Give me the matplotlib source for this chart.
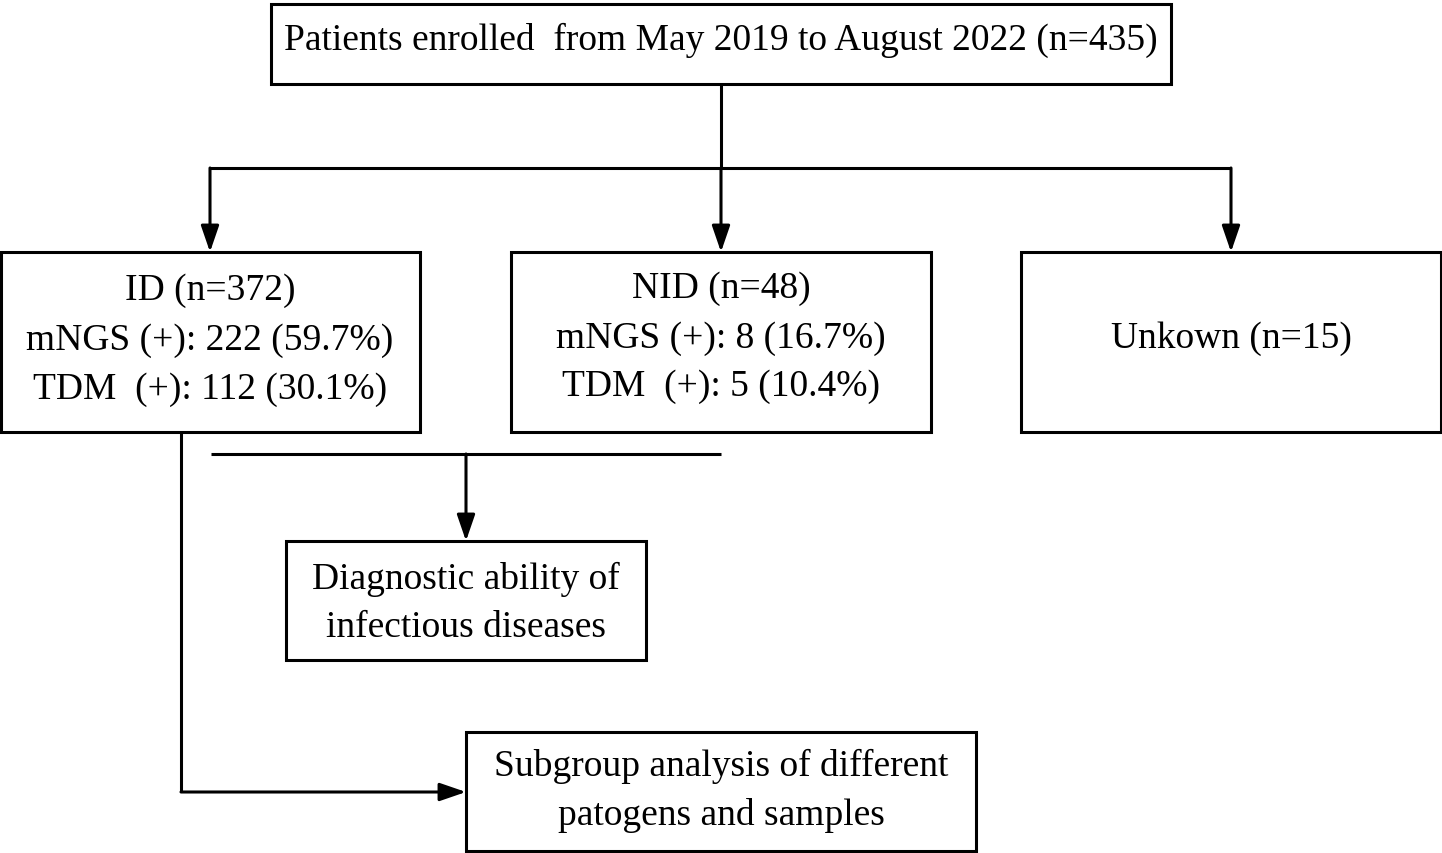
import matplotlib
matplotlib.use('Agg')
import matplotlib.pyplot as plt
from matplotlib.patches import Rectangle

# box texts
top_text = "Patients enrolled  from May 2019 to August 2022 (n=435)"
id_lines = ["ID (n=372)", "mNGS (+): 222 (59.7%)", "TDM  (+): 112 (30.1%)"]
nid_lines = ["NID (n=48)", "mNGS (+): 8 (16.7%)", "TDM  (+): 5 (10.4%)"]
unk_text = "Unkown (n=15)"
diag_lines = ["Diagnostic ability of", "infectious diseases"]
sub_lines = ["Subgroup analysis of different", "patogens and samples"]

W, H = 1442, 854
fig = plt.figure(figsize=(W / 100, H / 100), dpi=100)
ax = fig.add_axes([0, 0, 1, 1])
ax.set_xlim(0, W)
ax.set_ylim(H, 0)
ax.axis('off')

plt.rcParams['font.family'] = ['Liberation Serif', 'DejaVu Serif']
fs = 27
lw = 2.2

def box(x0, y0, x1, y1):
    ax.add_patch(Rectangle((x0, y0), x1 - x0, y1 - y0, fill=False,
                           edgecolor='black', linewidth=lw))

def lines_text(cx, ys, txts):
    for y, t in zip(ys, txts):
        ax.text(cx, y, t, ha='center', va='center', fontsize=fs)

def line(xs, ys):
    ax.plot(xs, ys, color='black', linewidth=lw, solid_capstyle='butt')

def arrow(x0, y0, x1, y1):
    ax.annotate('', xy=(x1, y1), xytext=(x0, y0),
                arrowprops=dict(arrowstyle='-|>,head_length=1.6,head_width=0.55',
                                color='black', linewidth=lw,
                                shrinkA=0, shrinkB=0))

# boxes
box(271, 5, 1171, 85)
ax.text(721, 40, top_text, ha='center', va='center', fontsize=fs)

box(1, 253, 420, 433)
lines_text(210, [291, 341, 390], id_lines)
box(511, 253, 931, 433)
lines_text(721, [289, 339, 387], nid_lines)
box(1021, 253, 1441, 433)
lines_text(1231, [339], [unk_text])

box(286, 542, 646, 661)
lines_text(466, [579, 628], diag_lines)
box(466, 733, 976, 852)
lines_text(721, [766, 816], sub_lines)

# connectors
line([721, 721], [85, 169])
line([210, 1231], [169, 169])
for x in [210, 721, 1231]:
    arrow(x, 169, x, 253)

line([211, 721], [455, 455])
arrow(466, 455, 466, 542)

line([181, 181], [433, 793])
arrow(181, 793, 466, 793)

plt.savefig('out.png', dpi=100, facecolor='white')
